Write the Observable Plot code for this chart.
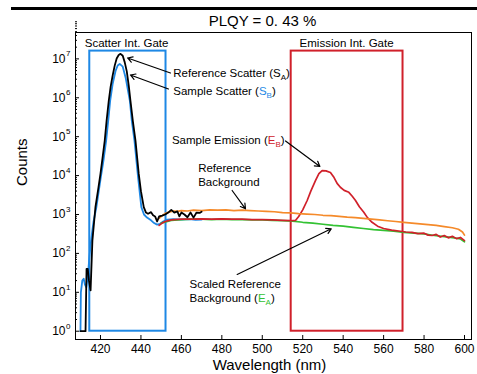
<!DOCTYPE html>
<html>
<head>
<meta charset="utf-8">
<script src="https://cdn.jsdelivr.net/npm/d3@7"></script>
<script src="https://cdn.jsdelivr.net/npm/@observablehq/plot@0.6"></script>
<style>
  html, body { margin: 0; padding: 0; background: #fff; }
  #wrap { position: relative; width: 477px; height: 374px; }
  #bar { position: absolute; left: 11px; top: 7px; width: 466px; height: 3px; background: #000; }
</style>
</head>
<body>
<div id="wrap"><div id="bar"></div></div>
<script>
// ---- data (log10 of counts) ----
const refScatterWl = [410.1, 412.6, 413.1, 413.7, 414.3, 415.1, 416.0, 417.5, 419.0, 420.0, 421.0, 422.1, 423.0, 424.1, 425.0, 426.0, 427.0, 428.0, 429.0, 429.9, 431.0, 432.0, 433.0, 434.0, 434.8, 436.0, 437.3, 438.9, 440.0, 441.4, 442.5, 443.5, 445.0, 446.0, 447.0, 448.0, 449.0, 450.5, 452.0, 453.5, 455.0, 456.5, 458.0, 459.0, 460.0, 461.5, 463.0, 464.5, 466.0, 467.5, 469.0, 470.0];
const refScatterLog = [0, 0, 1.6, 1.6, 1.3, 1.05, 2.33, 3.19, 3.7, 4.05, 4.45, 4.9, 5.4, 5.93, 6.28, 6.57, 6.82, 7.01, 7.1, 7.13, 7.08, 6.91, 6.68, 6.3, 5.93, 5.4, 4.9, 4.05, 3.6, 3.19, 3.05, 3.02, 3.06, 2.98, 2.95, 2.82, 2.95, 2.97, 3.0, 3.05, 3.12, 3.05, 3.08, 2.95, 3.05, 3.0, 2.93, 3.05, 2.92, 3.05, 3.04, 3.07];

const smpScatterWl = [410.1, 410.3, 411.0, 411.7, 412.3, 413.0, 413.8, 414.5, 415.5, 416.5, 418.0, 420.0, 421.5, 422.8, 424.0, 424.8, 426.0, 427.5, 428.5, 429.5, 431.0, 432.5, 434.5, 435.5, 436.8, 438.5, 440.2, 441.5, 443.0, 445.0, 446.5, 448.0, 449.5, 451.0, 453.0, 456.0, 460.0, 464.0, 467.0, 470.0];
const smpScatterLog = [0, 1.0, 1.3, 1.35, 1.2, 1.13, 1.45, 1.9, 2.4, 2.8, 3.2, 3.9, 4.4, 4.9, 5.5, 5.93, 6.35, 6.7, 6.83, 6.87, 6.8, 6.5, 5.93, 5.4, 4.9, 4.0, 3.19, 3.0, 2.92, 2.85, 2.78, 2.74, 2.76, 2.82, 2.87, 2.88, 2.87, 2.88, 2.86, 2.87];

const refBgWl = [449, 450.5, 452, 454, 456, 458, 460, 463, 466, 470, 474, 478, 482, 486, 490, 494, 498, 502, 506, 510, 514, 518, 522, 526, 530, 534, 538, 542, 546, 550, 554, 558, 562, 566, 570, 574, 578, 582, 586, 590, 594, 597, 599, 600];
const refBgLog = [2.9, 2.97, 3.03, 3.06, 3.09, 3.08, 3.1, 3.09, 3.11, 3.1, 3.12, 3.11, 3.12, 3.1, 3.11, 3.1, 3.09, 3.08, 3.07, 3.05, 3.04, 3.02, 3.01, 3.0, 2.98, 2.97, 2.95, 2.93, 2.92, 2.9, 2.88, 2.86, 2.84, 2.82, 2.8, 2.78, 2.76, 2.74, 2.72, 2.69, 2.66, 2.62, 2.55, 2.47];

const scaledBgWl = [450, 455, 460, 465, 470, 475, 480, 485, 490, 495, 500, 505, 510, 515, 520, 525, 530, 535, 540, 545, 550, 555, 560, 565, 570, 575, 580, 585, 590, 595, 598, 600];
const scaledBgLog = [2.78, 2.85, 2.87, 2.88, 2.88, 2.87, 2.88, 2.87, 2.87, 2.86, 2.86, 2.85, 2.84, 2.83, 2.8, 2.78, 2.75, 2.72, 2.7, 2.67, 2.64, 2.61, 2.59, 2.57, 2.54, 2.52, 2.5, 2.46, 2.43, 2.4, 2.37, 2.3];

const emissionWl = [449, 450.5, 452, 455, 460, 465, 470, 475, 480, 485, 490, 495, 500, 505, 510, 514, 516.5, 518, 520, 522.2, 524, 526.3, 528, 529.6, 531.5, 533.7, 535.5, 537, 538.6, 540.5, 542.8, 544.5, 546.1, 548, 550.2, 552, 554.3, 557, 560, 564, 568.3, 571, 574, 577, 580, 582, 584, 586, 588, 590, 592, 594, 596, 598, 600];
const emissionLog = [2.72, 2.78, 2.82, 2.86, 2.88, 2.88, 2.89, 2.88, 2.89, 2.88, 2.88, 2.87, 2.87, 2.86, 2.85, 2.84, 2.85, 2.95, 3.12, 3.36, 3.6, 3.87, 4.05, 4.13, 4.12, 4.08, 3.95, 3.8, 3.7, 3.62, 3.57, 3.47, 3.36, 3.2, 3.06, 2.92, 2.8, 2.7, 2.64, 2.6, 2.57, 2.55, 2.54, 2.51, 2.52, 2.47, 2.46, 2.49, 2.42, 2.46, 2.4, 2.44, 2.38, 2.41, 2.33];

const scatterGate = {x1: 414.7, x2: 452.4, y1: 1, y2: 10 ** 7.2};
const emissionGate = {x1: 514.3, x2: 569.6, y1: 1, y2: 10 ** 7.2};

const xTicks = [420, 440, 460, 480, 500, 520, 540, 560, 580, 600];
const yExps = [0, 1, 2, 3, 4, 5, 6, 7];

// annotation text (positions in data units: wavelength, log10 counts)
const notes = [
  {text: "Scatter Int. Gate", x: 432.9, y: 7.40, anchor: "middle"},
  {text: "Emission Int. Gate", x: 541.7, y: 7.40, anchor: "middle"},
  {text: "Reference Scatter (SA)", x: 456.0, y: 6.617, anchor: "start"},
  {text: "Sample Scatter (SB)", x: 456.0, y: 6.170, anchor: "start"},
  {text: "Sample Emission (EB)", x: 455.3, y: 4.902, anchor: "start"},
  {text: "Reference", x: 468.3, y: 4.175, anchor: "start"},
  {text: "Background", x: 468.3, y: 3.830, anchor: "start"},
  {text: "Scaled Reference", x: 464.0, y: 1.208, anchor: "start"},
  {text: "Background (EA)", x: 464.0, y: 0.848, anchor: "start"}
];
const arrows = [
  {x1: 454.6, y1: 6.637, x2: 433.4, y2: 7.023},
  {x1: 453.6, y1: 6.226, x2: 434.8, y2: 6.586},
  {x1: 511.5, y1: 4.889, x2: 528.5, y2: 4.234},
  {x1: 485.1, y1: 3.617, x2: 491.7, y2: 3.147},
  {x1: 487.6, y1: 1.458, x2: 534.1, y2: 2.632}
];
const richText = {
  "Reference Scatter (SA)": [["Reference Scatter (", "#000"], ["S", "#000"], ["A", "#000", 1], [")", "#000"]],
  "Sample Scatter (SB)": [["Sample Scatter (", "#000"], ["S", "#1e88e5"], ["B", "#1e88e5", 1], [")", "#000"]],
  "Sample Emission (EB)": [["Sample Emission (", "#000"], ["E", "#d0202a"], ["B", "#d0202a", 1], [")", "#000"]],
  "Background (EA)": [["Background (", "#000"], ["E", "#33c233"], ["A", "#33c233", 1], [")", "#000"]]
};

const series = (wl, lg) => wl.map((w, i) => ({wl: w, counts: 10 ** lg[i]}));
const refScatter = series(refScatterWl, refScatterLog);
const smpScatter = series(smpScatterWl, smpScatterLog);
const refBg = series(refBgWl, refBgLog);
const scaledBg = series(scaledBgWl, scaledBgLog);
const emission = series(emissionWl, emissionLog);

const minorY = [];
for (let e = 0; e < 8; e++) for (let m = 2; m <= 9; m++) minorY.push(m * 10 ** e);

const BLUE = "#1e88e5", RED = "#d0202a", ORANGE = "#f58a2a", GREEN = "#33c233";
const W = 477, H = 374, ML = 75, MR = 6, MT = 32, MB = 35;
const FW = W - ML - MR, FH = H - MT - MB;

const plot = Plot.plot({
  width: W, height: H,
  marginLeft: ML, marginRight: MR, marginTop: MT, marginBottom: MB,
  x: {domain: [407.64, 603.46], axis: null},
  y: {type: "log", domain: [10 ** -0.213, 10 ** 7.678], axis: null},
  style: {fontFamily: "'Liberation Sans', Arial, sans-serif", background: "#fff", color: "#000"},
  marks: [
    Plot.rect([scatterGate], {x1: "x1", x2: "x2", y1: "y1", y2: "y2", fill: "none", stroke: BLUE, strokeWidth: 2}),
    Plot.rect([emissionGate], {x1: "x1", x2: "x2", y1: "y1", y2: "y2", fill: "none", stroke: RED, strokeWidth: 2}),
    Plot.line(smpScatter, {x: "wl", y: "counts", stroke: BLUE, strokeWidth: 1.8}),
    Plot.line(scaledBg, {x: "wl", y: "counts", stroke: GREEN, strokeWidth: 1.7}),
    Plot.line(emission, {x: "wl", y: "counts", stroke: RED, strokeWidth: 1.7}),
    Plot.line(refBg, {x: "wl", y: "counts", stroke: ORANGE, strokeWidth: 1.7}),
    Plot.line(refScatter, {x: "wl", y: "counts", stroke: "#000", strokeWidth: 1.8}),
    Plot.arrow(arrows, {x1: "x1", y1: d => 10 ** d.y1, x2: "x2", y2: d => 10 ** d.y2, stroke: "#000", strokeWidth: 1.2, headLength: 7}),
    Plot.text(notes.filter(d => d.anchor === "middle"), {x: "x", y: d => 10 ** d.y, text: "text", textAnchor: "middle", fontSize: 11.5, fill: "#000"}),
    Plot.text(notes.filter(d => d.anchor === "start"), {x: "x", y: d => 10 ** d.y, text: "text", textAnchor: "start", fontSize: 11.5, fill: "#000"}),
    // inward ticks
    Plot.tickX(xTicks, {x: d => d, insetTop: FH - 4, stroke: "#000"}),
    Plot.tickY(yExps.map(e => 10 ** e), {y: d => d, insetRight: FW - 4, stroke: "#000"}),
    Plot.tickY(minorY, {y: d => d, insetRight: FW - 2, stroke: "#000"}),
    // tick labels
    Plot.text(xTicks, {x: d => d, frameAnchor: "bottom", lineAnchor: "middle", dy: 10, fontSize: 12, text: d => String(d)}),
    Plot.text(yExps, {y: d => 10 ** d, frameAnchor: "left", lineAnchor: "middle", dx: -10, textAnchor: "end", fontSize: 12, text: () => "10"}),
    Plot.text(yExps, {y: d => 10 ** d, frameAnchor: "left", lineAnchor: "middle", dx: -9.5, dy: -5, textAnchor: "start", fontSize: 8, text: d => String(d)}),
    // axis titles and chart title
    Plot.text(["Counts"], {frameAnchor: "left", lineAnchor: "middle", dx: -53, rotate: -90, fontSize: 15, text: d => d}),
    Plot.text(["Wavelength (nm)"], {frameAnchor: "bottom", lineAnchor: "middle", dx: -4, dy: 26, fontSize: 15, text: d => d}),
    Plot.text(["PLQY = 0. 43 %"], {frameAnchor: "top", lineAnchor: "middle", dx: -11, dy: -11, fontSize: 15, text: d => d}),
    Plot.frame({stroke: "#000", strokeWidth: 1})
  ]
});

// rich text: coloured subscripts
d3.select(plot).selectAll("text").each(function () {
  const parts = richText[this.textContent];
  if (!parts) return;
  const el = d3.select(this);
  el.text(null);
  let prevSub = false;
  for (const [s, c, sub] of parts) {
    const t = el.append("tspan").text(s).attr("fill", c);
    if (sub) { t.attr("font-size", 8).attr("dy", 3); prevSub = true; }
    else if (prevSub) { t.attr("dy", -3); prevSub = false; }
  }
});

document.getElementById("wrap").appendChild(plot);
</script>
</body>
</html>
